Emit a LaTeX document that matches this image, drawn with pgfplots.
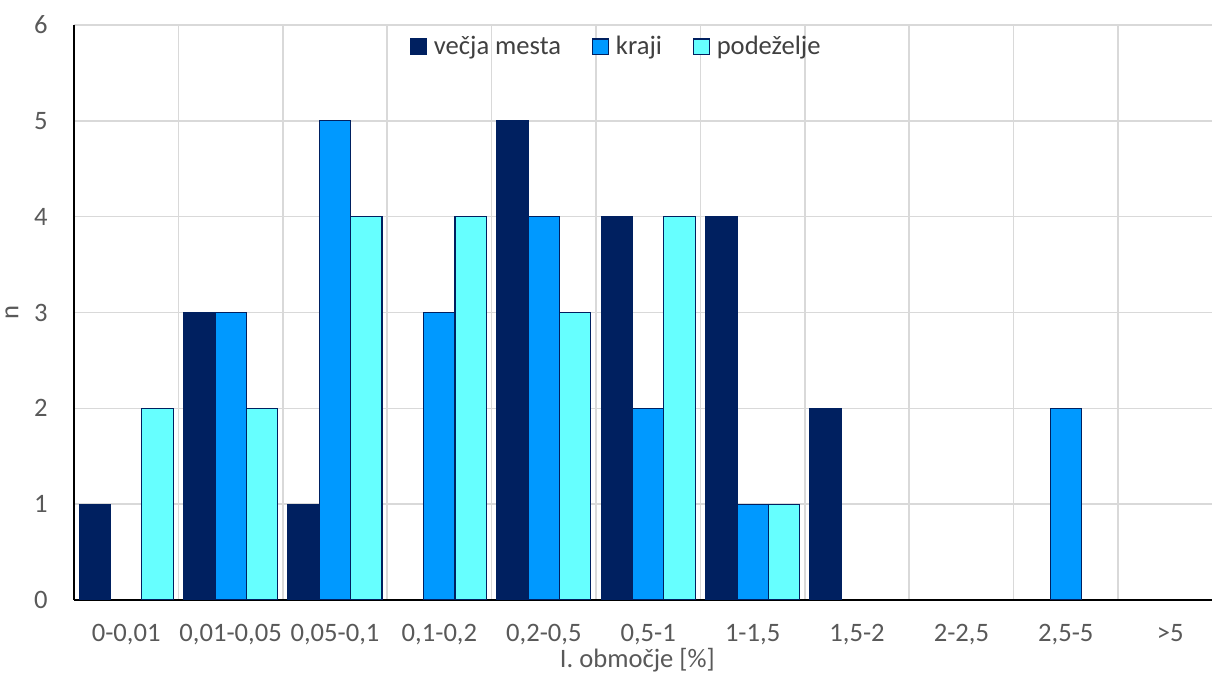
\documentclass[border=0pt]{standalone}
\usepackage{fontspec}
\setmainfont{Carlito}
\usepackage{pgfplots}
\pgfplotsset{compat=1.18}
\definecolor{navy}{HTML}{002060}
\definecolor{blu}{HTML}{0099FF}
\definecolor{cyn}{HTML}{66FFFF}
\definecolor{gridc}{HTML}{D9D9D9}
\definecolor{txt}{HTML}{595959}
\definecolor{legtxt}{HTML}{404040}
\pgfplotsset{
  mybar/.style={fill=#1, draw=navy, line width=0.6pt,
    legend image code/.code={\draw[##1, line width=0.6pt] (0pt,-3.9pt) rectangle (7.8pt,3.9pt); \path (9.8pt,0pt);}},
}
\begin{document}
\begin{tikzpicture}
\useasboundingbox (0,0) rectangle (606pt,337.5pt);
\begin{axis}[
  at={(37pt,37.5pt)}, anchor=south west,
  scale only axis, width=569pt, height=287.5pt,
  xmin=-0.5, xmax=10.40, ymin=0, ymax=6,
  axis x line*=bottom, axis y line*=left,
  axis line style={-, black, line width=0.75pt},
  ybar, bar width=0.3,
  ytick={0,...,6},
  xtick={0,...,10},
  xticklabels={0-0{,}01,0{,}01-0{,}05,0{,}05-0{,}1,0{,}1-0{,}2,0{,}2-0{,}5,0{,}5-1,1-1{,}5,1{,}5-2,2-2{,}5,2{,}5-5,>5},
  minor xtick={0.5,1.5,...,9.5},
  major tick length=0pt, minor tick length=0pt,
  ymajorgrids, xminorgrids, xmajorgrids=false,
  grid style={gridc, line width=0.75pt},
  minor grid style={gridc, line width=0.75pt},
  /pgf/number format/assume math mode=true,
  tick label style={font=\fontsize{13.3}{15}\selectfont, text=txt, inner sep=0pt},
  yticklabel style={anchor=east, xshift=-13pt},
  xticklabel style={anchor=base, yshift=-21pt},
  xlabel={I. območje [\%]},
  ylabel={n},
  label style={font=\fontsize{13.3}{15}\selectfont, text=txt, inner sep=0pt},
  xlabel style={at={(axis description cs:0.495,0)}, anchor=base, yshift=-34pt},
  ylabel style={at={(axis description cs:0,0.5)}, anchor=center, yshift=31pt},
  legend style={at={(0.477,0.962)}, anchor=center, draw=none, fill=none,
    font=\fontsize{13.3}{15}\selectfont, text=legtxt, legend columns=3,
    /tikz/every even column/.append style={column sep=14pt},
    nodes={inner sep=1.5pt},
    legend cell align=left},
]
\addplot[mybar=navy, draw=navy, bar shift=-0.3] coordinates {(0,1) (1,3) (2,1) (4,5) (5,4) (6,4) (7,2)};
\addplot[mybar=blu, bar shift=0] coordinates {(1,3) (2,5) (3,3) (4,4) (5,2) (6,1) (9,2)};
\addplot[mybar=cyn, bar shift=0.3] coordinates {(0,2) (1,2) (2,4) (3,4) (4,3) (5,4) (6,1)};
\legend{večja mesta, kraji, podeželje}
\end{axis}
\end{tikzpicture}
\end{document}
